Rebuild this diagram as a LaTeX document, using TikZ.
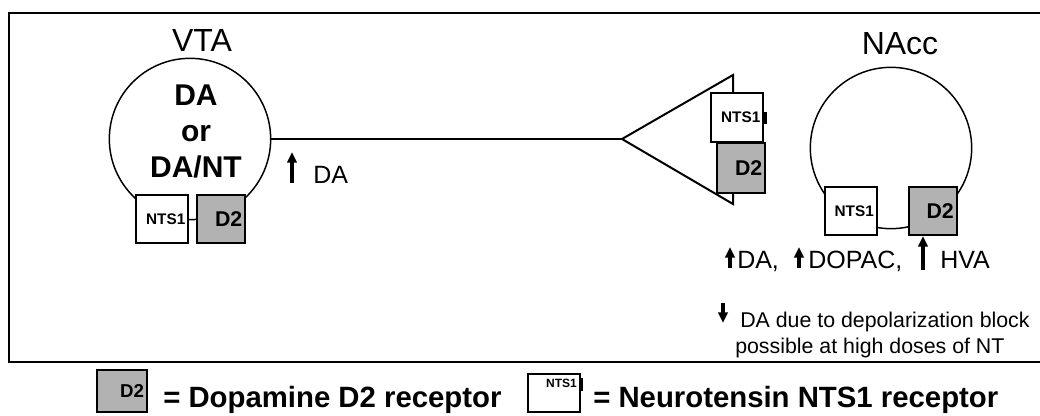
\documentclass[tikz,border=0pt]{standalone}
\usepackage{fontspec}
\setmainfont{Liberation Sans}
\usetikzlibrary{arrows.meta,positioning}

\begin{document}
\begin{tikzpicture}[x=0.75pt,y=-0.75pt,
    cell/.style={draw,circle,line width=1.1pt,minimum size=121pt,inner sep=0pt},
    rcp/.style={draw,line width=1.5pt,minimum height=36pt,inner xsep=2pt,inner ysep=0pt,align=right},
    nts/.style={rcp,fill=white,text width=35pt,font=\bfseries\fontsize{11.5}{13}\selectfont},
    dtwo/.style={rcp,fill=black!30,text width=32pt,font=\bfseries\fontsize{16}{18}\selectfont},
    txt/.style={inner sep=0pt},
    rise/.style={-{Triangle[length=8pt,width=7pt]},line width=2.4pt}]
    \useasboundingbox (0,0) rectangle (1040,415);

    % frame
    \draw[line width=1.9pt] (1040,13) -- (9,13) -- (9,362) -- (1040,362);

    % VTA cell body
    \node[cell] (vta) at (190,139) {};
    \node[txt,font=\fontsize{24}{28}\selectfont,anchor=base] (vtalbl) at (202,51) {VTA};
    \node[txt,font=\bfseries\fontsize{22.5}{27}\selectfont,align=center,anchor=north] (vtatxt) at (196,85) {DA\\or\\DA/NT};
    \node[nts] (vnts) at (162,219) {NTS1};
    \node[dtwo] (vd2) at (221,219) {D2};

    % axon and terminal
    \coordinate (tip) at (622,139);
    \draw[line width=1.1pt] (vta.east) -- (tip);
    \draw[line width=1.5pt] (tip) -- (733,75) -- (733,204) -- cycle;
    \node[nts,minimum height=37pt] (tnts) at (737,117.5) {NTS1};
    \draw[line width=2.4pt] ([xshift=1pt,yshift=4.5pt]tnts.east) -- ([xshift=1pt,yshift=-4.5pt]tnts.east);
    \node[dtwo,minimum height=37.5pt] (td2) at (741,168) {D2};

    \node[txt,font=\fontsize{18.75}{22}\selectfont,anchor=base west] (axda) at (313,183) {DA};
    \draw[rise] ([xshift=-15.75pt]axda.base west) -- ++(0,-31);

    % NAcc cell body
    \node[cell] (nacc) at (891,148) {};
    \node[txt,font=\fontsize{24}{28}\selectfont,anchor=base] (nacclbl) at (900,54) {NAcc};
    \node[nts] (nnts) at (850.5,211) {NTS1};
    \node[dtwo] (nd2) at (932.5,211) {D2};

    % metabolites
    \node[txt,font=\fontsize{18.75}{22}\selectfont,anchor=base west] (mda) at (737,268) {DA,};
    \node[txt,font=\fontsize{18.75}{22}\selectfont,anchor=base west] (mdopac) at (808,268) {DOPAC,};
    \node[txt,font=\fontsize{18.75}{22}\selectfont,anchor=base west] (mhva) at (940,268) {HVA};
    \draw[rise] ([xshift=-5.25pt]mda.base west) -- ++(0,-21);
    \draw[rise] ([xshift=-6.75pt]mdopac.base west) -- ++(0,-21);
    \coordinate (hvaup) at (923,270);
    \draw[rise] (hvaup) -- (hvaup |- nd2.south);

    \node[txt,font=\fontsize{16}{19}\selectfont,anchor=base west] (block) at (740,327) {DA due to depolarization block};
    \node[txt,font=\fontsize{16}{19}\selectfont,anchor=base west] (doses) at (735,353) {possible at high doses of NT};
    \draw[rise] ([xshift=-12.75pt,yshift=18pt]block.base west) -- ++(0,20);

    % legend
    \node[rcp,fill=black!30,minimum height=32pt,text width=33pt,inner xsep=2pt,font=\bfseries\fontsize{14}{16}\selectfont] (lgdd2) at (122,391) {D2};
    \node[txt,font=\bfseries\fontsize{22}{26}\selectfont,anchor=base west] (lgdd2txt) at (163,407) {= Dopamine D2 receptor};
    \node[rcp,fill=white,minimum height=29pt,text width=35pt,text depth=14pt,inner xsep=2pt,font=\bfseries\fontsize{9}{11}\selectfont] (lgdnts) at (553.5,393) {NTS1};
    \draw[line width=2.4pt] ([xshift=1pt,yshift=-4pt]lgdnts.north east) -- ([xshift=1pt,yshift=-14pt]lgdnts.north east);
    \node[txt,font=\bfseries\fontsize{22}{26}\selectfont,anchor=base west] (lgdntstxt) at (593,407) {= Neurotensin NTS1 receptor};
\end{tikzpicture}
\end{document}
